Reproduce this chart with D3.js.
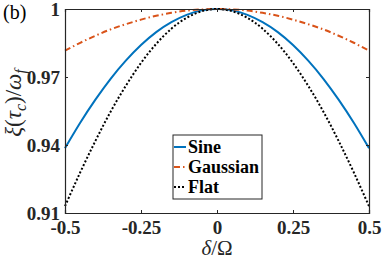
<!DOCTYPE html>
<html><head><meta charset="utf-8">
<script src="https://cdn.jsdelivr.net/npm/d3@7"></script>
<style>body{margin:0;background:#fff}svg{display:block}svg text{font-family:"Liberation Serif",serif}</style>
</head><body>
<script>
const delta = [-0.5,-0.45,-0.4,-0.35,-0.3,-0.25,-0.2,-0.15,-0.1,-0.05,0,0.05,0.1,0.15,0.2,0.25,0.3,0.35,0.4,0.45,0.5];
const sine = [0.9386,0.9498,0.9600,0.9692,0.9772,0.9841,0.9898,0.9942,0.9974,0.9994,1,0.9994,0.9974,0.9942,0.9898,0.9841,0.9772,0.9692,0.9600,0.9498,0.9386];
const gaussian = [0.9816,0.9851,0.9882,0.9910,0.9933,0.9953,0.9970,0.9983,0.9993,0.9998,1,0.9998,0.9993,0.9983,0.9970,0.9953,0.9933,0.9910,0.9882,0.9851,0.9816];
const flat = [0.9130,0.9279,0.9418,0.9547,0.9661,0.9762,0.9846,0.9913,0.9961,0.9990,1,0.9990,0.9961,0.9913,0.9846,0.9762,0.9661,0.9547,0.9418,0.9279,0.9130];
const xTicks = [-0.5,-0.25,0,0.25,0.5];
const xTickLabels = ["-0.5","-0.25","0","0.25","0.5"];
const yTicks = [0.91,0.94,0.97,1];
const yTickLabels = ["0.91","0.94","0.97","1"];
const seriesNames = ["Sine","Gaussian","Flat"];

(function(){
const W=382,H=262;
const m={l:65,r:13,t:9,b:49};
const SERIF="Liberation Serif";
const svg=d3.select("body").append("svg").attr("width",W).attr("height",H);
const x=d3.scaleLinear().domain([-0.5,0.5]).range([m.l,W-m.r]);
const y=d3.scaleLinear().domain([0.91,1]).range([H-m.b,m.t]);
const axCol="#262626";

const series=[
 {name:seriesNames[0],vals:sine,color:"#0072BD",dash:null},
 {name:seriesNames[1],vals:gaussian,color:"#D95319",dash:"6,3,1.5,3"},
 {name:seriesNames[2],vals:flat,color:"#000000",dash:"2,2"}
];
const line=d3.line().curve(d3.curveNatural);
const g=svg.append("g");
series.forEach(s=>{
  g.append("path").attr("d",line(delta.map((d,i)=>[x(d),y(s.vals[i])])))
   .attr("fill","none").attr("stroke",s.color).attr("stroke-width",2)
   .attr("stroke-dasharray",s.dash);
});

const axB=svg.append("g").attr("transform",`translate(0,${H-m.b})`)
 .call(d3.axisBottom(x).tickValues(xTicks).tickSize(-3).tickPadding(8).tickFormat((d,i)=>xTickLabels[i]));
const axT=svg.append("g").attr("transform",`translate(0,${m.t})`)
 .call(d3.axisTop(x).tickValues(xTicks).tickSize(-3).tickFormat(""));
const axL=svg.append("g").attr("transform",`translate(${m.l},0)`)
 .call(d3.axisLeft(y).tickValues(yTicks).tickSize(-3).tickPadding(5).tickFormat((d,i)=>yTickLabels[i]));
const axR=svg.append("g").attr("transform",`translate(${W-m.r},0)`)
 .call(d3.axisRight(y).tickValues(yTicks).tickSize(-3).tickFormat(""));
[axB,axT,axL,axR].forEach(a=>{
  a.attr("font-family",SERIF).attr("font-size",19).attr("font-weight","bold");
  a.selectAll(".domain").attr("stroke",axCol).attr("stroke-width",1.2);
  a.selectAll(".tick line").attr("stroke",axCol).attr("stroke-width",1);
  a.selectAll("text").attr("fill",axCol).style("font-family",SERIF).style("font-size","19px").style("font-weight","bold");
});
axB.selectAll("text").attr("dy","0.7em");
axL.selectAll("text").attr("dy","0.33em");

svg.append("text").attr("x",(m.l+W-m.r)/2).attr("y",255)
 .attr("text-anchor","middle").style("font-family",SERIF).style("font-size","21px").style("font-style","italic").attr("fill",axCol)
 .html('δ<tspan style="font-style:normal">/Ω</tspan>');
svg.append("text").attr("transform",`translate(21,103) rotate(-90)`)
 .attr("text-anchor","middle").style("font-family",SERIF).style("font-size","23px").style("font-style","italic").attr("fill",axCol)
 .html('ξ<tspan style="font-style:normal">(</tspan>τ<tspan style="font-size:16px" dy="5">c</tspan><tspan dy="-5" style="font-style:normal">)/</tspan>ω<tspan style="font-size:16px" dy="5">f</tspan>');

svg.append("text").attr("x",3).attr("y",19).style("font-family",SERIF).style("font-size","20px").attr("fill","#000").text("(b)");

const lg=svg.append("g");
lg.append("rect").attr("x",173).attr("y",135).attr("width",89).attr("height",64)
 .attr("fill","#fff").attr("stroke",axCol).attr("stroke-width",1);
series.forEach((s,i)=>{
  const yy=147+i*20;
  lg.append("line").attr("x1",174).attr("x2",186).attr("y1",yy).attr("y2",yy)
   .attr("stroke",s.color).attr("stroke-width",2).attr("stroke-dasharray",s.dash);
  lg.append("text").attr("x",188).attr("y",yy).attr("dy","0.35em")
   .style("font-family",SERIF).style("font-size","18px").style("font-weight","bold").attr("fill","#000").text(s.name);
});
})();
</script>
</body></html>
